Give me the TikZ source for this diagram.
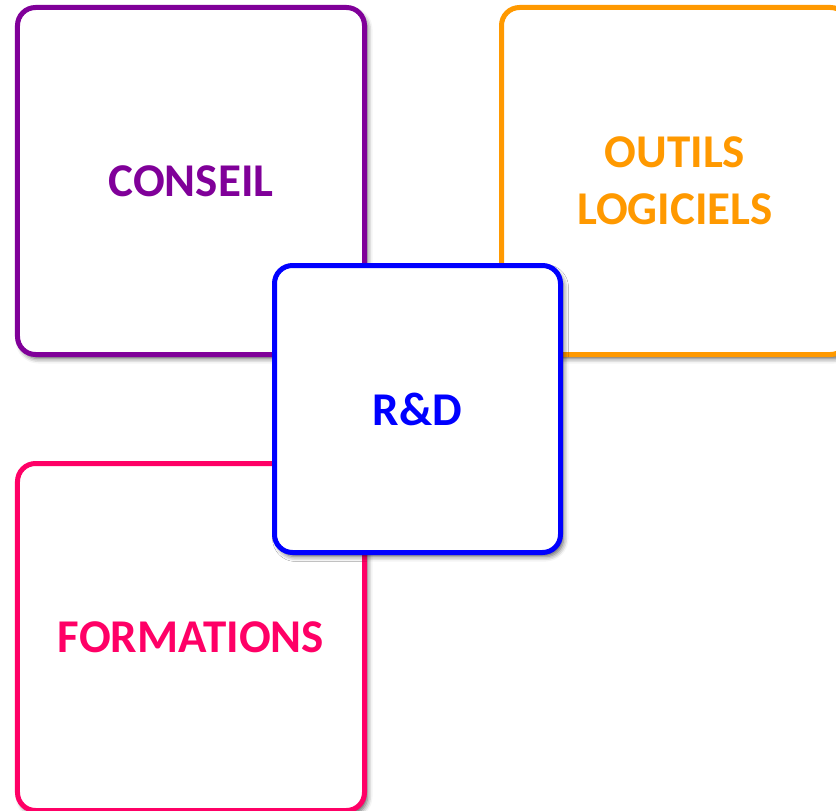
\documentclass[tikz,border=0pt]{standalone}
\usepackage{fontspec}
\setmainfont{Carlito}
\usetikzlibrary{shadows.blur}
\definecolor{cpurple}{RGB}{128,0,153}
\definecolor{corange}{RGB}{255,153,0}
\definecolor{cpink}{RGB}{255,0,102}
\definecolor{cblue}{RGB}{0,0,255}
\begin{document}
\begin{tikzpicture}[x=1bp,y=-1bp,
  box/.style={draw, line width=5bp, rounded corners=18bp, fill=white,
    minimum width=347bp, minimum height=347bp, inner sep=0pt, align=center,
    font=\fontsize{47bp}{57bp}\selectfont\bfseries,
    blur shadow={shadow xshift=3bp, shadow yshift=-4bp, shadow blur radius=5bp, shadow opacity=65}},
  small/.style={minimum width=286bp, minimum height=287bp}]
\useasboundingbox (0,0) rectangle (836,811);
\clip (0,0) rectangle (836,811);
\node[box, draw=cpurple, text=cpurple] (conseil) at (191,181) {CONSEIL};
\node[box, draw=corange, text=corange] (outils) at (675,181) {OUTILS\\LOGICIELS};
\node[box, draw=cpink, text=cpink] (formations) at (191,637) {FORMATIONS};
\node[box, small, draw=cblue, text=cblue] (rd) at (417.5,409) {R\&D};
\end{tikzpicture}
\end{document}
